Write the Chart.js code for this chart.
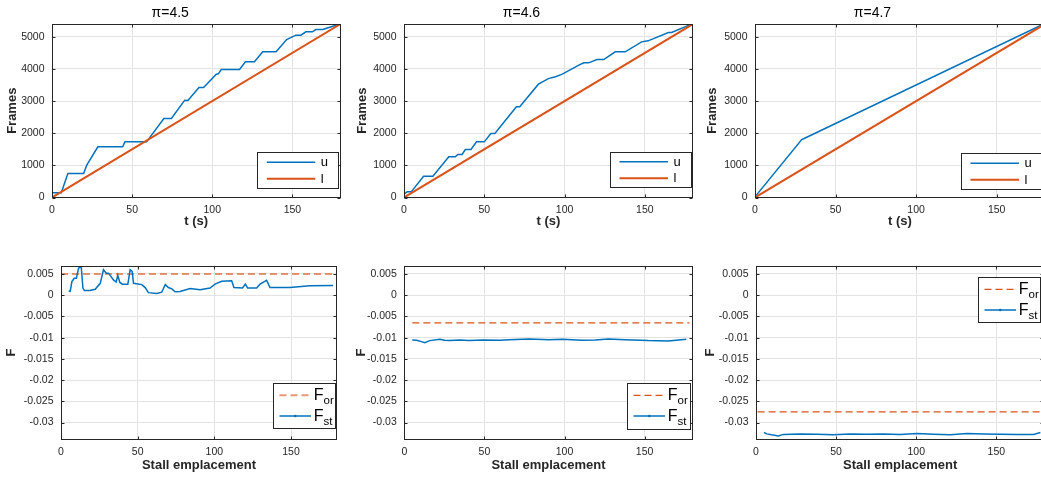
<!DOCTYPE html>
<html><head><meta charset="utf-8">
<script src="https://cdn.jsdelivr.net/npm/chart.js@4/dist/chart.umd.min.js"></script>
<style>
html,body{margin:0;padding:0;background:#fff;overflow:hidden;width:1041px;height:477px;position:relative;}
canvas{position:absolute;}
</style></head><body>
<canvas id="c1" width="350" height="240" style="left:0;top:0"></canvas>
<canvas id="c2" width="350" height="240" style="left:350px;top:0"></canvas>
<canvas id="c3" width="350" height="240" style="left:700px;top:0"></canvas>
<canvas id="c4" width="350" height="237" style="left:0;top:240px"></canvas>
<canvas id="c5" width="350" height="237" style="left:350px;top:240px"></canvas>
<canvas id="c6" width="350" height="237" style="left:700px;top:240px"></canvas>
<script>
// ---------- data ----------
const panelTitles = ['π=4.5', 'π=4.6', 'π=4.7'];

const tTicks = [0, 50, 100, 150];
const tTickLabels = ['0', '50', '100', '150'];
const framesTicks = [0, 1000, 2000, 3000, 4000, 5000];
const framesTickLabels = ['0', '1000', '2000', '3000', '4000', '5000'];
const fTicks = [0.005, 0, -0.005, -0.01, -0.015, -0.02, -0.025, -0.03];
const fTickLabels = ['0.005', '0', '-0.005', '-0.01', '-0.015', '-0.02', '-0.025', '-0.03'];

// lower bound l (same in all three panels)
const lT = [0, 180];
const lFrames = [0, 5400];

// upper bound u
const u45T = [0, 5.8, 9.9, 19.7, 21.7, 28.6, 44.1, 45.5, 59, 69.8, 74.5, 82.8, 84.8, 91.7, 94.6, 102.5, 103.8, 105.6, 117, 120.7, 126.3, 131.5, 139.8, 146.4, 152.2, 155.3, 158.4, 162.5, 164.6, 169, 180];
const u45 = [150, 150, 750, 750, 1006, 1577, 1577, 1732, 1732, 2458, 2458, 3029, 3020, 3423, 3423, 3838, 3850, 3983, 3983, 4222, 4222, 4533, 4533, 4917, 5052, 5052, 5155, 5155, 5228, 5228, 5410];
const u46T = [0, 1.9, 4.5, 12.2, 18, 27.9, 32, 33.5, 36.2, 38.2, 41.7, 45.2, 50, 54.1, 56.6, 70, 72.1, 83.7, 89.9, 94.4, 98.6, 108.9, 112, 115, 120.2, 124.4, 131.6, 137.8, 148, 152, 164.7, 166.7, 180];
const u46 = [104, 176, 176, 664, 664, 1266, 1266, 1338, 1338, 1494, 1494, 1732, 1732, 1992, 1992, 2822, 2822, 3527, 3700, 3760, 3838, 4118, 4191, 4191, 4295, 4295, 4533, 4533, 4844, 4876, 5135, 5135, 5415];
const u47T = [0, 29, 30.5, 180];
const u47 = [20, 1805, 1836, 5420];

// F_or (orthogonal) and F_st (stall) values
const for45T = [0, 180];
const for45 = [0.005, 0.005];
const for46T = [5, 178];
const for46 = [-0.0065, -0.0065];
const for47T = [1, 180];
const for47 = [-0.0275, -0.0275];

const fst45T = [5, 6, 7.1, 8.6, 10, 11.5, 13.2, 14.3, 15.2, 19, 22.3, 25.6, 27.7, 29.5, 31, 34.2, 36, 37, 38.4, 40, 43.6, 45.1, 46.4, 47.3, 52.7, 54.9, 57, 62.5, 65.7, 68, 70, 72.3, 74.4, 77.7, 84.2, 90.7, 97.2, 100.5, 104.8, 111.3, 112.8, 118.4, 120.2, 121.7, 127.6, 129.8, 134.1, 136.3, 149.3, 162.3, 177.5];
const fst45 = [0.001, 0.0009, 0.0032, 0.004, 0.004, 0.0064, 0.0067, 0.0017, 0.0011, 0.0011, 0.0014, 0.0028, 0.006, 0.0052, 0.0052, 0.0036, 0.0031, 0.0047, 0.003, 0.0026, 0.0026, 0.006, 0.0056, 0.0028, 0.0025, 0.0018, 0.0006, 0.0004, 0.0007, 0.0025, 0.0018, 0.0015, 0.0008, 0.0009, 0.0016, 0.0013, 0.0017, 0.0026, 0.0033, 0.0034, 0.0018, 0.0017, 0.0026, 0.0017, 0.0017, 0.0026, 0.0035, 0.0018, 0.0018, 0.0022, 0.0023];
const fst46T = [5, 7.6, 10.7, 12.8, 15.9, 22.1, 25.2, 28.3, 34.5, 40.7, 49, 59.3, 65.5, 77.9, 90.3, 98.6, 111, 119.2, 127.5, 137.8, 152.3, 164.7, 172.9, 176];
const fst46 = [-0.01055, -0.01063, -0.01094, -0.01117, -0.0107, -0.01039, -0.01063, -0.0107, -0.01055, -0.0107, -0.01055, -0.01063, -0.01047, -0.01031, -0.01047, -0.01039, -0.01063, -0.01055, -0.01031, -0.01047, -0.0107, -0.01078, -0.01047, -0.01039];
const fst47T = [5, 6.7, 9.8, 14, 17, 27.5, 37.9, 48.3, 58.8, 69.2, 79.6, 90, 100.4, 110.8, 121.3, 131.7, 142, 152.5, 163, 173.3, 177.5];
const fst47 = [-0.03236, -0.03268, -0.0329, -0.03315, -0.0328, -0.03268, -0.03276, -0.0329, -0.03268, -0.03276, -0.03268, -0.0328, -0.0326, -0.03276, -0.0329, -0.0326, -0.03268, -0.03276, -0.0328, -0.0328, -0.03236];

// ---------- style ----------
const FONT = "'Liberation Sans', Arial, Helvetica, sans-serif";
const INK = '#262626';
const GRID = '#e3e3e3';
const BLUE = '#0072BD';
const ORANGE = '#D95319';

function pts(xs, ys) { return xs.map((x, i) => ({ x: x, y: ys[i] })); }

const framePlugin = {
  id: 'matFrame',
  afterDraw(chart, args, o) {
    const ctx = chart.ctx, a = chart.chartArea;
    const xs = chart.scales.x, ys = chart.scales.y;
    ctx.save();
    const L = Math.round(a.left) + 0.5, R = Math.round(a.right) - 0.5;
    const T = Math.round(a.top) + 0.5, B = Math.round(a.bottom) - 0.5;
    ctx.strokeStyle = INK; ctx.lineWidth = 1;
    ctx.strokeRect(L, T, R - L, B - T);
    const tl = 3;
    ctx.beginPath();
    xs.ticks.forEach(t => {
      const px = Math.round(xs.getPixelForValue(t.value)) + 0.5;
      ctx.moveTo(px, B); ctx.lineTo(px, B - tl);
      ctx.moveTo(px, T); ctx.lineTo(px, T + tl);
    });
    ys.ticks.forEach(t => {
      const py = Math.round(ys.getPixelForValue(t.value)) + 0.5;
      ctx.moveTo(L, py); ctx.lineTo(L + tl, py);
      ctx.moveTo(R, py); ctx.lineTo(R - tl, py);
    });
    ctx.stroke();

    const lg = o.legend;
    if (lg) {
      const bx = a.right - lg.dx - lg.w;
      const by = lg.corner === 'se' ? a.bottom - lg.dy - lg.h : a.top + lg.dy;
      const X = Math.round(bx) + 0.5, Y = Math.round(by) + 0.5;
      ctx.fillStyle = '#fff';
      ctx.fillRect(X, Y, Math.round(lg.w), Math.round(lg.h));
      ctx.strokeStyle = INK; ctx.lineWidth = 1;
      ctx.strokeRect(X, Y, Math.round(lg.w), Math.round(lg.h));
      chart.data.datasets.forEach((ds, i) => {
        const ry = by + lg.rows[i];
        ctx.save();
        ctx.strokeStyle = ds.legendColor || ds.borderColor;
        ctx.lineWidth = ds.borderWidth;
        ctx.setLineDash(ds.borderDash || []);
        ctx.beginPath();
        ctx.moveTo(bx + lg.lx0, ry); ctx.lineTo(bx + lg.lx1, ry);
        ctx.stroke();
        ctx.restore();
        if (ds.legendDot) {
          ctx.fillStyle = ds.borderColor;
          ctx.beginPath();
          ctx.arc(bx + (lg.lx0 + lg.lx1) / 2, ry, 1.3, 0, Math.PI * 2);
          ctx.fill();
        }
        const parts = ds.label.split('_');
        ctx.fillStyle = '#000';
        ctx.textBaseline = 'alphabetic';
        ctx.textAlign = 'left';
        ctx.font = lg.fontSize + 'px ' + FONT;
        ctx.fillText(parts[0], bx + lg.tx, ry + lg.base);
        if (parts[1]) {
          const w = ctx.measureText(parts[0]).width;
          ctx.font = lg.subSize + 'px ' + FONT;
          ctx.fillText(parts[1], bx + lg.tx + w, ry + lg.base + lg.subShift);
        }
      });
    }
    ctx.restore();
  }
};

function build(id, o) {
  return new Chart(document.getElementById(id), {
    type: 'line',
    data: { datasets: o.datasets },
    options: {
      responsive: false,
      animation: false,
      events: [],
      layout: { padding: o.pad },
      elements: { point: { radius: 0 }, line: { tension: 0 } },
      plugins: {
        legend: { display: false },
        tooltip: { enabled: false },
        title: o.title ? {
          display: true, text: o.title, color: '#000',
          font: { family: FONT, size: 14, weight: 'normal', lineHeight: '16px' },
          padding: { top: 5.3, bottom: 2.7 }
        } : { display: false },
        matFrame: { legend: o.legend }
      },
      scales: {
        x: {
          type: 'linear', min: o.xMin, max: o.xMax,
          afterBuildTicks: s => { s.ticks = o.xTicks.map(v => ({ value: v })); },
          afterFit: s => { s.height = o.xH; },
          grid: { color: GRID, drawTicks: false },
          border: { display: false },
          ticks: {
            color: INK, font: { family: FONT, size: 10.5 }, padding: 6,
            maxRotation: 0, autoSkip: false,
            callback: (v, i) => o.xLabels[i]
          },
          title: {
            display: true, text: o.xTitle, color: INK,
            font: { family: FONT, size: 13, weight: 'bold', lineHeight: '16px' },
            padding: { top: 0, bottom: o.xTitlePadB }
          }
        },
        y: {
          type: 'linear', min: o.yMin, max: o.yMax,
          afterBuildTicks: s => { s.ticks = o.yTicks.map(v => ({ value: v })); },
          afterFit: s => { s.width = o.yW; },
          grid: { color: GRID, drawTicks: false },
          border: { display: false },
          ticks: {
            color: INK, font: { family: FONT, size: 10.5 }, padding: 7.5,
            autoSkip: false,
            callback: (v, i) => o.yLabels[i]
          },
          title: {
            display: true, text: o.yTitle, color: INK,
            font: { family: FONT, size: 13, weight: 'bold', lineHeight: '16px' },
            padding: { top: o.yTitlePadT, bottom: 0 }
          }
        }
      }
    },
    plugins: [framePlugin]
  });
}

const topLegend = { rows: [10, 26.5], lx0: 9.5, lx1: 58, tx: 63.5, fontSize: 13, base: 4, subSize: 10, subShift: 4 };
const botLegend = { rows: [12, 32.7], lx0: 6.2, lx1: 37.7, tx: 40.5, fontSize: 16, base: 5, subSize: 11.5, subShift: 4 };

function topDatasets(uT, u) {
  return [
    { label: 'u', data: pts(uT, u), borderColor: BLUE, borderWidth: 1.5, order: 1 },
    { label: 'l', data: pts(lT, lFrames), borderColor: ORANGE, borderWidth: 2, order: 0 }
  ];
}
function botDatasets(orT, orV, stT, stV, orColor, orWidth) {
  return [
    { label: 'F_or', data: pts(orT, orV), borderColor: orColor, borderWidth: orWidth, borderDash: [7, 4], order: 1 },
    { label: 'F_st', data: pts(stT, stV), borderColor: BLUE, borderWidth: 1.5, order: 0, legendDot: true }
  ];
}

const topCommon = {
  xMin: 0, xMax: 180, yMin: 0, yMax: 5400,
  xTicks: tTicks, xLabels: tTickLabels, yTicks: framesTicks, yLabels: framesTickLabels,
  xTitle: 't (s)', yTitle: 'Frames', xH: 42.5, xTitlePadB: 10.3
};
const botCommon = {
  xMin: 0, xMax: 180, yMin: -0.034, yMax: 0.007,
  xTicks: tTicks, xLabels: tTickLabels, yTicks: fTicks, yLabels: fTickLabels,
  xTitle: 'Stall emplacement', yTitle: 'F', xH: 37.5, xTitlePadB: 4
};

build('c1', Object.assign({}, topCommon, {
  title: panelTitles[0], datasets: topDatasets(u45T, u45),
  pad: { left: 0, right: 9.5, top: 0, bottom: 0 }, yW: 52, yTitlePadT: 4,
  legend: Object.assign({ corner: 'se', dx: 2.2, dy: 9.2, w: 81, h: 36 }, topLegend)
}));
build('c2', Object.assign({}, topCommon, {
  title: panelTitles[1], datasets: topDatasets(u46T, u46),
  pad: { left: 0, right: 7, top: 0, bottom: 0 }, yW: 54, yTitlePadT: 4.3,
  legend: Object.assign({ corner: 'se', dx: 2.3, dy: 10.8, w: 80.7, h: 35 }, topLegend)
}));
build('c3', Object.assign({}, topCommon, {
  title: panelTitles[2], datasets: topDatasets(u47T, u47),
  pad: { left: 0, right: 5, top: 0, bottom: 0 }, yW: 55, yTitlePadT: 4.3,
  legend: Object.assign({ corner: 'se', dx: 4.5, dy: 8.2, w: 79.5, h: 36 }, topLegend)
}));
build('c4', Object.assign({}, botCommon, {
  datasets: botDatasets(for45T, for45, fst45T, fst45, 'rgba(217,83,25,0.6)', 2),
  pad: { left: 0, right: 13, top: 25.5, bottom: 0 }, yW: 61, yTitlePadT: 3.7,
  legend: Object.assign({ corner: 'se', dx: 2, dy: 11.2, w: 61.7, h: 45 }, botLegend)
}));
build('c5', Object.assign({}, botCommon, {
  datasets: botDatasets(for46T, for46, fst46T, fst46, ORANGE, 1.2),
  pad: { left: 0, right: 7.3, top: 25.5, bottom: 0 }, yW: 54.3, yTitlePadT: 3.7,
  legend: Object.assign({ corner: 'se', dx: 2.7, dy: 10.5, w: 62.7, h: 45.7 }, botLegend)
}));
build('c6', Object.assign({}, botCommon, {
  datasets: botDatasets(for47T, for47, fst47T, fst47, ORANGE, 1.2),
  pad: { left: 0, right: 5.6, top: 25.5, bottom: 0 }, yW: 56, yTitlePadT: 2,
  legend: Object.assign({ corner: 'ne', dx: 3.7, dy: 11.8, w: 62.4, h: 45.4 }, botLegend)
}));
</script>
</body></html>
